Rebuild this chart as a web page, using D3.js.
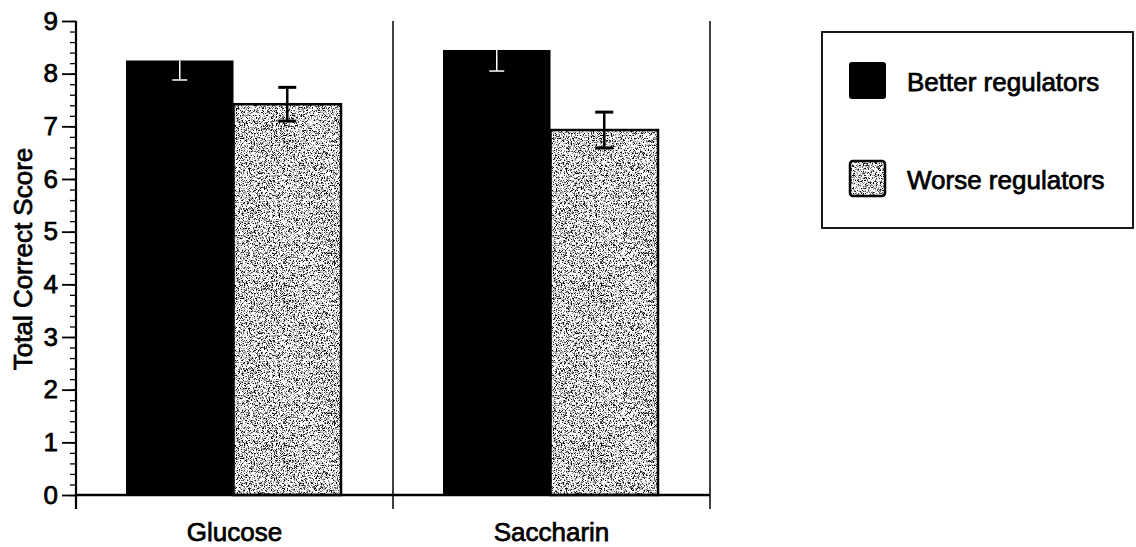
<!DOCTYPE html>
<html>
<head>
<meta charset="utf-8">
<script src="https://cdn.jsdelivr.net/npm/d3@7"></script>
<style>
  html, body { margin: 0; padding: 0; background: #fff; }
  svg { display: block; }
  text { font-family: "Liberation Sans", Arial, Helvetica, sans-serif; fill: #000; }
</style>
</head>
<body>
<svg id="chart" width="1136" height="547"></svg>
<script>
// Sugar condition on the x axis
const categories = ["Glucose", "Saccharin"];
// Regulator groups (legend order)
const groups = ["Better regulators", "Worse regulators"];
// Mean total correct score per condition, one array per group
const betterMeans = [8.25, 8.45];
const worseMeans = [7.42, 6.93];
// Standard errors for the same cells
const betterErr = [0.37, 0.40];
const worseErr = [0.32, 0.34];
// Y axis ticks
const yTicks = [0, 1, 2, 3, 4, 5, 6, 7, 8, 9];

const svg = d3.select("#chart");
const textStroke = 0.75;

// Fine speckled grey fill used by the second group
const defs = svg.append("defs");
const f = defs.append("filter").attr("id", "grain")
  .attr("x", 0).attr("y", 0).attr("width", 1).attr("height", 1)
  .attr("filterUnits", "objectBoundingBox")
  .attr("color-interpolation-filters", "sRGB");
f.append("feTurbulence").attr("type", "fractalNoise")
  .attr("baseFrequency", 1.6).attr("numOctaves", 1).attr("seed", 11).attr("result", "noise");
f.append("feColorMatrix").attr("in", "noise").attr("type", "matrix")
  .attr("values", "5 0 0 0 -1.6  5 0 0 0 -1.6  5 0 0 0 -1.6  0 0 0 0 1")
  .attr("result", "grey");
f.append("feComposite").attr("in", "grey").attr("in2", "SourceGraphic").attr("operator", "in");

const plotLeft = 76, plotRight = 710, plotTop = 21, plotBottom = 495;

const y = d3.scaleLinear().domain([0, 9]).range([plotBottom, plotTop]);
const x = d3.scaleBand().domain(categories).range([plotLeft, plotRight]).padding(0);
const xInner = d3.scaleBand().domain(groups).range([50, 265]).padding(0);

const rows = categories.map((c, i) => ({
  cat: c,
  cells: [
    { group: groups[0], mean: betterMeans[i], err: betterErr[i] },
    { group: groups[1], mean: worseMeans[i], err: worseErr[i] }
  ]
}));

// Bars
const catG = svg.selectAll("g.cat").data(rows).join("g")
  .attr("class", "cat")
  .attr("transform", d => `translate(${x(d.cat)},0)`);

catG.each(function (d) {
  const g = d3.select(this);
  d.cells.forEach((c, k) => {
    const bx = xInner(c.group), bw = xInner.bandwidth();
    const by = y(c.mean), bh = y(0) - y(c.mean);
    if (k === 0) {
      g.append("rect").attr("x", bx).attr("y", by).attr("width", bw).attr("height", bh)
        .attr("fill", "#000");
    } else {
      g.append("rect").attr("x", bx).attr("y", by).attr("width", bw).attr("height", bh)
        .attr("fill", "#888").attr("filter", "url(#grain)");
      g.append("rect").attr("x", bx).attr("y", by).attr("width", bw).attr("height", bh)
        .attr("fill", "none").attr("stroke", "#000").attr("stroke-width", 2.5);
    }
  });
  // Error bars
  d.cells.forEach((c, k) => {
    const cx = xInner(c.group) + xInner.bandwidth() / 2;
    if (k === 0) {
      // lower half, drawn in white inside the solid bar
      g.append("line").attr("x1", cx).attr("x2", cx)
        .attr("y1", y(c.mean)).attr("y2", y(c.mean - c.err))
        .attr("stroke", "#fff").attr("stroke-width", 1.5);
      g.append("line").attr("x1", cx - 7.5).attr("x2", cx + 7.5)
        .attr("y1", y(c.mean - c.err)).attr("y2", y(c.mean - c.err))
        .attr("stroke", "#fff").attr("stroke-width", 1.5);
    } else {
      g.append("line").attr("x1", cx).attr("x2", cx)
        .attr("y1", y(c.mean + c.err)).attr("y2", y(c.mean - c.err))
        .attr("stroke", "#000").attr("stroke-width", 2.5);
      [c.mean + c.err, c.mean - c.err].forEach(v => {
        g.append("line").attr("x1", cx - 9).attr("x2", cx + 9)
          .attr("y1", y(v)).attr("y2", y(v))
          .attr("stroke", "#000").attr("stroke-width", 3);
      });
    }
  });
});

// Category dividers
categories.forEach(c => {
  const xr = x(c) + x.bandwidth();
  svg.append("line").attr("x1", xr).attr("x2", xr).attr("y1", plotTop).attr("y2", plotBottom)
    .attr("stroke", "#000").attr("stroke-width", 1.5);
});

// Y axis with minor ticks
const yAxisMinor = d3.axisLeft(y).tickValues(d3.range(0, 9.001, 0.2)).tickSize(6).tickFormat("");
svg.append("g").attr("transform", `translate(${plotLeft},0)`).call(yAxisMinor)
  .call(g => g.select(".domain").remove())
  .call(g => g.selectAll("line").attr("stroke-width", 1.3));
const yAxis = d3.axisLeft(y).tickValues(yTicks).tickSize(14).tickPadding(4).tickFormat(d3.format("d"));
svg.append("g").attr("transform", `translate(${plotLeft},0)`).call(yAxis)
  .call(g => g.select(".domain").remove())
  .call(g => g.selectAll("line").attr("stroke-width", 1.8))
  .call(g => g.selectAll("text").attr("font-size", 26).attr("font-family", null)
    .attr("stroke", "#000").attr("stroke-width", textStroke));
svg.append("line").attr("x1", plotLeft).attr("x2", plotLeft).attr("y1", plotTop).attr("y2", plotBottom + 14)
  .attr("stroke", "#000").attr("stroke-width", 2.2);

// X axis: baseline, boundary ticks and category labels
svg.append("line").attr("x1", plotLeft).attr("x2", plotRight).attr("y1", plotBottom).attr("y2", plotBottom)
  .attr("stroke", "#000").attr("stroke-width", 2.5);
const bounds = [x(categories[0])].concat(categories.map(c => x(c) + x.bandwidth()));
bounds.forEach(b => {
  svg.append("line").attr("x1", b).attr("x2", b).attr("y1", plotBottom).attr("y2", plotBottom + 14)
    .attr("stroke", "#000").attr("stroke-width", 1.5);
});
svg.append("g").selectAll("text").data(categories).join("text")
  .attr("x", d => x(d) + x.bandwidth() / 2).attr("y", 541)
  .attr("text-anchor", "middle").attr("font-size", 26)
  .attr("stroke", "#000").attr("stroke-width", textStroke)
  .text(d => d);

// Y title
svg.append("text")
  .attr("transform", `translate(32,259) rotate(-90)`)
  .attr("text-anchor", "middle").attr("font-size", 26)
  .attr("stroke", "#000").attr("stroke-width", textStroke)
  .text("Total Correct Score");

// Legend
const lg = svg.append("g");
lg.append("rect").attr("x", 822).attr("y", 32).attr("width", 311).attr("height", 196)
  .attr("fill", "#fff").attr("stroke", "#000").attr("stroke-width", 1.8);
const legendY = [80.5, 178.5];
groups.forEach((gname, i) => {
  if (i === 0) {
    lg.append("rect").attr("x", 849).attr("y", legendY[i] - 18.5).attr("width", 37).attr("height", 37)
      .attr("rx", 3).attr("fill", "#000");
  } else {
    lg.append("rect").attr("x", 850).attr("y", legendY[i] - 17.5).attr("width", 35).attr("height", 35)
      .attr("rx", 3).attr("fill", "#888").attr("filter", "url(#grain)");
    lg.append("rect").attr("x", 850).attr("y", legendY[i] - 17.5).attr("width", 35).attr("height", 35)
      .attr("rx", 3).attr("fill", "none").attr("stroke", "#000").attr("stroke-width", 2.5);
  }
  lg.append("text").attr("x", 907).attr("y", legendY[i] + 10)
    .attr("font-size", 26).attr("stroke", "#000").attr("stroke-width", textStroke)
    .text(gname);
});
</script>
</body>
</html>
